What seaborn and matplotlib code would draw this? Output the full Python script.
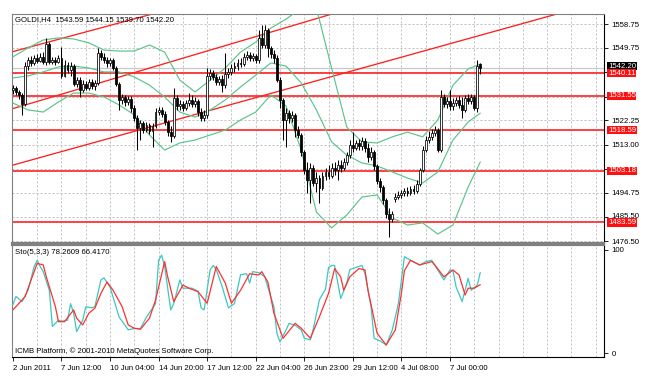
import matplotlib
matplotlib.use('Agg')
import matplotlib.pyplot as plt
import matplotlib.transforms as mtransforms
import numpy as np
import seaborn as sns

# ---------------- data ----------------
opens = [
1533.8, 1534.5, 1533.0, 1531.9, 1528.5, 1542.8, 1545.1, 1544.0, 1545.9, 1544.7,
1546.3, 1544.4, 1551.2, 1544.4, 1545.1, 1544.4, 1545.9, 1539.1, 1543.2, 1541.3,
1542.8, 1536.0, 1537.5, 1533.8, 1536.0, 1534.5, 1536.8, 1535.3, 1536.4, 1547.8,
1546.3, 1545.1, 1544.0, 1545.1, 1542.1, 1536.0, 1530.0, 1531.1, 1529.2, 1530.3,
1526.9, 1523.1, 1519.4, 1521.3, 1518.6, 1520.5, 1518.2, 1520.1, 1525.4, 1526.2,
1524.7, 1521.6, 1517.8, 1516.3, 1530.7, 1527.7, 1528.5, 1526.9, 1528.8, 1530.0,
1528.5, 1529.6, 1525.4, 1523.1, 1524.3, 1539.1, 1540.2, 1538.7, 1536.8, 1537.9,
1535.6, 1539.8, 1540.6, 1542.1, 1542.8, 1544.0, 1543.6, 1546.3, 1547.0, 1545.9,
1546.6, 1545.1, 1553.5, 1550.8, 1556.5, 1549.7, 1547.4, 1545.9, 1537.5, 1530.0,
1522.4, 1525.0, 1523.1, 1524.3, 1518.6, 1516.7, 1510.3, 1503.4, 1499.7, 1504.2,
1498.5, 1500.4, 1496.6, 1501.2, 1502.7, 1501.2, 1504.2, 1503.4, 1505.3, 1504.2,
1506.5, 1509.1, 1512.9, 1511.8, 1513.7, 1512.5, 1514.4, 1511.8, 1508.4, 1510.3,
1505.0, 1499.3, 1497.0, 1492.1, 1486.8, 1484.9, 1492.5, 1493.2, 1494.0, 1494.7,
1495.5, 1494.7, 1496.3, 1495.5, 1498.1, 1503.4, 1511.0, 1514.8, 1515.9, 1517.5,
1518.6, 1511.0, 1531.1, 1528.5, 1529.6, 1527.7, 1528.8, 1530.0, 1528.1, 1526.2,
1530.7, 1529.6, 1531.1, 1526.9, 1543.59]
highs = [
1535.6, 1535.3, 1533.8, 1532.6, 1544.4, 1546.3, 1546.6, 1547.0, 1547.4, 1547.8,
1548.1, 1553.5, 1551.9, 1546.3, 1546.3, 1547.0, 1550.0, 1545.1, 1544.4, 1544.4,
1543.6, 1538.7, 1538.7, 1537.5, 1537.2, 1537.9, 1537.9, 1537.5, 1549.7, 1548.9,
1547.8, 1546.3, 1545.9, 1545.9, 1542.8, 1536.8, 1532.2, 1531.9, 1531.5, 1531.5,
1528.1, 1524.3, 1522.4, 1522.0, 1521.6, 1521.3, 1521.3, 1526.9, 1527.3, 1527.3,
1525.8, 1522.4, 1520.1, 1534.5, 1531.9, 1530.0, 1529.6, 1530.0, 1532.6, 1531.9,
1531.1, 1530.3, 1526.9, 1526.2, 1542.1, 1541.7, 1541.3, 1539.8, 1539.1, 1539.4,
1547.8, 1542.1, 1543.6, 1544.4, 1545.5, 1545.9, 1547.8, 1548.5, 1548.1, 1547.8,
1547.4, 1556.5, 1558.4, 1558.4, 1557.2, 1550.4, 1548.9, 1547.0, 1538.7, 1530.7,
1526.9, 1526.2, 1525.8, 1525.0, 1520.1, 1517.5, 1511.0, 1506.5, 1506.1, 1505.3,
1502.7, 1501.6, 1502.7, 1504.2, 1505.3, 1506.1, 1506.5, 1507.2, 1507.2, 1508.0,
1510.3, 1514.8, 1517.8, 1514.8, 1515.2, 1515.9, 1515.6, 1513.7, 1512.2, 1511.0,
1505.7, 1500.4, 1497.8, 1492.8, 1489.0, 1487.9, 1494.7, 1495.5, 1495.9, 1496.6,
1497.0, 1497.4, 1497.8, 1499.7, 1504.2, 1512.5, 1516.3, 1518.2, 1519.0, 1520.1,
1519.4, 1533.8, 1532.2, 1531.1, 1533.8, 1530.7, 1531.1, 1531.5, 1531.1, 1531.9,
1532.2, 1532.2, 1531.9, 1545.1, 1544.15]
lows = [
1532.2, 1531.9, 1530.3, 1524.3, 1527.7, 1541.3, 1542.8, 1543.2, 1544.0, 1544.4,
1543.6, 1543.2, 1543.6, 1543.6, 1543.2, 1544.0, 1538.3, 1538.7, 1540.2, 1539.1,
1535.3, 1534.9, 1531.1, 1533.0, 1533.8, 1533.8, 1534.1, 1533.8, 1535.6, 1545.1,
1544.0, 1542.5, 1542.8, 1541.3, 1535.3, 1526.2, 1528.5, 1527.7, 1528.1, 1525.4,
1522.0, 1511.0, 1514.8, 1517.5, 1517.8, 1517.1, 1512.2, 1519.4, 1524.3, 1523.5,
1520.5, 1516.3, 1514.1, 1515.6, 1526.2, 1526.2, 1525.8, 1526.2, 1527.7, 1527.3,
1527.3, 1523.9, 1522.0, 1522.0, 1523.1, 1537.5, 1537.5, 1535.6, 1535.6, 1533.0,
1534.5, 1538.3, 1539.4, 1540.6, 1541.3, 1542.5, 1542.8, 1545.1, 1544.7, 1544.7,
1544.0, 1544.0, 1549.7, 1549.7, 1546.3, 1545.9, 1544.0, 1536.8, 1526.9, 1514.8,
1512.2, 1521.3, 1521.6, 1515.9, 1515.6, 1508.8, 1501.9, 1494.7, 1490.9, 1497.4,
1495.1, 1490.9, 1495.9, 1499.7, 1500.0, 1500.4, 1501.6, 1499.7, 1502.7, 1503.4,
1505.3, 1508.0, 1510.3, 1511.0, 1511.0, 1511.0, 1510.3, 1506.5, 1507.2, 1503.4,
1498.1, 1495.1, 1490.6, 1485.3, 1478.1, 1483.8, 1491.3, 1492.5, 1492.8, 1493.6,
1493.6, 1494.0, 1494.4, 1494.7, 1497.4, 1502.7, 1510.3, 1513.7, 1514.8, 1516.3,
1510.3, 1510.3, 1527.3, 1526.9, 1526.2, 1526.2, 1527.7, 1526.9, 1523.1, 1525.4,
1528.5, 1528.5, 1526.2, 1525.4, 1539.70]
closes = [
1534.5, 1533.0, 1531.9, 1528.5, 1542.8, 1545.1, 1544.0, 1545.9, 1544.7, 1546.3,
1544.4, 1551.2, 1544.4, 1545.1, 1544.4, 1545.9, 1539.1, 1543.2, 1541.3, 1542.8,
1536.0, 1537.5, 1533.8, 1536.0, 1534.5, 1536.8, 1535.3, 1536.4, 1547.8, 1546.3,
1545.1, 1544.0, 1545.1, 1542.1, 1536.0, 1530.0, 1531.1, 1529.2, 1530.3, 1526.9,
1523.1, 1519.4, 1521.3, 1518.6, 1520.5, 1518.2, 1520.1, 1525.4, 1526.2, 1524.7,
1521.6, 1517.8, 1516.3, 1530.7, 1527.7, 1528.5, 1526.9, 1528.8, 1530.0, 1528.5,
1529.6, 1525.4, 1523.1, 1524.3, 1539.1, 1540.2, 1538.7, 1536.8, 1537.9, 1535.6,
1539.8, 1540.6, 1542.1, 1542.8, 1544.0, 1543.6, 1546.3, 1547.0, 1545.9, 1546.6,
1545.1, 1553.5, 1550.8, 1556.5, 1549.7, 1547.4, 1545.9, 1537.5, 1530.0, 1522.4,
1525.0, 1523.1, 1524.3, 1518.6, 1516.7, 1510.3, 1503.4, 1499.7, 1504.2, 1498.5,
1500.4, 1496.6, 1501.2, 1502.7, 1501.2, 1504.2, 1503.4, 1505.3, 1504.2, 1506.5,
1509.1, 1512.9, 1511.8, 1513.7, 1512.5, 1514.4, 1511.8, 1508.4, 1510.3, 1505.0,
1499.3, 1497.0, 1492.1, 1486.8, 1484.9, 1486.8, 1493.2, 1494.0, 1494.7, 1495.5,
1494.7, 1496.3, 1495.5, 1498.1, 1503.4, 1511.0, 1514.8, 1515.9, 1517.5, 1518.6,
1511.0, 1531.1, 1528.5, 1529.6, 1527.7, 1528.8, 1530.0, 1528.1, 1526.2, 1530.7,
1529.6, 1531.1, 1526.9, 1542.8, 1542.20]

# Bollinger bands, sampled every 5 bars
band_idx = [0, 5, 10, 15, 20, 25, 30, 35, 40, 45, 50, 55, 60, 65, 70, 75, 80, 85,
            90, 95, 100, 105, 110, 115, 120, 125, 130, 135, 140, 145, 150, 154]
bb_upper = [1546.3, 1549.7, 1552.7, 1553.5, 1553.1, 1551.6, 1548.9, 1548.5, 1548.5,
            1550.8, 1548.1, 1537.5, 1533.0, 1537.5, 1542.1, 1548.1, 1551.9, 1557.2,
            1560.6, 1564.8, 1564.8, 1542.1, 1519.7, 1514.1, 1513.7, 1516.0, 1517.8,
            1516.0, 1522.4, 1535.6, 1541.7, 1543.6]
bb_middle = [1538.3, 1539.1, 1540.6, 1542.5, 1542.8, 1542.1, 1540.6, 1540.6, 1538.7,
             1535.6, 1531.1, 1525.4, 1523.5, 1526.2, 1530.0, 1534.9, 1539.4, 1544.0,
             1542.8, 1536.4, 1526.2, 1514.1, 1509.1, 1506.1, 1505.0, 1502.7, 1500.4,
             1498.5, 1502.7, 1514.8, 1521.6, 1525.0]
bb_lower = [1528.8, 1526.2, 1525.4, 1529.2, 1532.6, 1532.6, 1531.1, 1528.1, 1524.3,
            1516.7, 1511.0, 1513.7, 1514.8, 1516.7, 1518.6, 1522.4, 1525.4, 1531.9,
            1527.7, 1511.0, 1487.5, 1481.5, 1486.4, 1493.2, 1494.0, 1485.3, 1482.6,
            1483.4, 1479.2, 1482.6, 1497.0, 1506.5]

# Stochastic (5,3,3)
sto_main_idx = [0, 1, 3, 5, 7, 8, 9, 10, 12, 13, 15, 16, 18, 19, 20, 21, 23, 24, 26, 27,
                29, 30, 32, 35, 37, 38, 40, 42, 44, 47, 48, 49, 50, 52, 53, 55, 56, 59, 61, 62,
                63, 65, 66, 67, 69, 71, 73, 75, 77, 78, 79, 81, 83, 84, 86, 87, 88, 90, 91, 93,
                95, 96, 98, 99, 101, 103, 104, 105, 106, 108, 110, 111, 114, 115, 116, 118, 119,
                121, 123, 125, 127, 129, 131, 133, 134, 136, 138, 140, 142, 144, 145, 146, 148,
                150, 151, 153, 154]
sto_main = [47, 55, 50, 61, 84, 90, 84, 79, 61, 26, 32, 31, 32, 48, 39, 21, 32, 45, 44, 45,
            71, 73, 64, 35, 27, 22.6, 24, 24, 35, 48, 90, 95, 84, 42, 48, 71, 63, 63, 60, 44,
            42, 81, 85, 81, 64, 44, 48, 76, 77, 68, 79, 78, 74, 64, 45, 19, 11, 22.6, 29, 27,
            22.6, 14.5, 13, 24, 52, 62, 83, 85, 85, 53, 68, 81, 84, 85, 77, 45, 14.5,
            12, 8, 22.6, 48, 93.5, 90, 87, 85.5, 88.7, 90, 80.6, 71, 80.6, 80, 64.5, 50,
            72.6, 61, 66, 78.2609]
sto_sig_idx = [0, 3, 4, 6, 8, 10, 11, 14, 15, 17, 20, 21, 23, 25, 27, 29, 31, 33, 36, 38,
               40, 42, 45, 47, 50, 51, 53, 56, 58, 61, 64, 67, 70, 72, 75, 78, 81, 82, 84, 86,
               89, 93, 95, 98, 101, 104, 106, 108, 109, 111, 114, 116, 117, 120, 123, 126, 128,
               129, 131, 134, 138, 139, 142, 145, 147, 149, 150, 152, 154]
sto_sig = [42, 51.6, 54.8, 71, 87, 85.5, 74, 45, 30.6, 30.6, 42, 34, 27.4, 38.7, 43.6, 58,
           69, 61, 45, 27.4, 24.2, 23.2, 34, 51.6, 88.7, 74, 50, 66, 63, 59.6, 48.4, 84, 67.8,
           48.4, 61, 77, 75.8, 79, 69, 38.7, 14.5, 29, 24.2, 14.5, 35.4, 58, 82, 74, 61, 74,
           82, 80.6, 61, 19.4, 8, 22.6, 58, 80, 90, 85.5, 88.7, 85.5, 74, 80.6, 75.8, 56.4,
           63, 63, 66.4170]

# horizontal levels and trend lines (bar, price, bar, price)
levels = [1540.11, 1531.55, 1518.59, 1503.18, 1483.59]
bid_price = 1542.20
trend_lines = [(0, 1548.3, 40, 1560.7),
               (0, 1526.7, 100, 1560.8),
               (0, 1505.3, 150, 1553.2)]

price_ticks = [1558.75, 1549.75, 1540.50, 1531.25, 1522.25, 1513.00, 1503.75,
               1494.75, 1485.50, 1476.50]
price_tick_labels = ['1558.75', '1549.75', '', '', '1522.25', '1513.00', '',
                     '1494.75', '1485.50', '1476.50']
time_ticks = [0, 16, 32, 48, 64, 80, 96, 112, 128, 144]
time_labels = ['2 Jun 2011', '7 Jun 12:00', '10 Jun 04:00', '14 Jun 20:00',
               '17 Jun 12:00', '22 Jun 04:00', '26 Jun 23:00', '29 Jun 12:00',
               '4 Jul 08:00', '7 Jul 00:00']

title_text = 'GOLDI,H4  1543.59 1544.15 1539.70 1542.20'
sto_text = 'Sto(5,3,3) 78.2609 66.4170'
copyright_text = 'ICMB Platform, \u00a9 2001-2010 MetaQuotes Software Corp.'

# ---------------- style ----------------
sns.set_theme(style='white')
plt.rcParams['font.family'] = ['Liberation Sans', 'DejaVu Sans']
FS = 5.6
plt.rcParams['font.size'] = FS
plt.rcParams['axes.linewidth'] = 0.8

W, H = 646, 381
fig = plt.figure(figsize=(W / 100, H / 100), dpi=100)
fig.patch.set_facecolor('white')
L, R = 12, 604
ax = fig.add_axes([L / W, 1 - 243 / H, (R - L) / W, (243 - 14) / H])
ax2 = fig.add_axes([L / W, 1 - 357 / H, (R - L) / W, (357 - 245) / H])

XMIN = -0.3
XMAX = XMIN + (R - L) / 3.035
GRID = '#c0c0c0'
DOT = (0, (2, 2))

for a in (ax, ax2):
    a.set_facecolor('white')
    a.set_xlim(XMIN, XMAX)
    for b in range(8, int(XMAX) + 1, 8):
        a.axvline(b, color=GRID, lw=0.72, ls=DOT, zorder=0.5)

ax.set_ylim(1475.79, 1562.54)
for p in price_ticks:
    ax.axhline(p, color=GRID, lw=0.72, ls=DOT, zorder=0.5)

# bid line
ax.axhline(bid_price, color='#c8c8c8', lw=0.9, zorder=1)

# horizontal levels
for lv in levels:
    ax.axhline(lv, color='#ff2a2a', lw=1.25, zorder=2)

# trend lines
for (x0, y0, x1, y1) in trend_lines:
    ax.axline((x0, y0), (x1, y1), color='#ff2020', lw=0.95, zorder=2)

# Bollinger bands
bb_col = '#5cc48a'
for series in (bb_upper, bb_middle, bb_lower):
    sns.lineplot(x=band_idx, y=series, ax=ax, color=bb_col, lw=0.85,
                 estimator=None, sort=False, zorder=3)

# candles
idx = np.arange(len(closes))
o = np.array(opens); h = np.array(highs); l = np.array(lows); c = np.array(closes)
ax.vlines(idx, l, h, color='black', lw=0.75, zorder=4)
bottom = np.minimum(o, c)
height = np.maximum(np.abs(c - o), 0.35)
bull = c >= o
ax.bar(idx[bull], height[bull], bottom=bottom[bull], width=0.62,
       facecolor='white', edgecolor='black', linewidth=0.55, zorder=5)
ax.bar(idx[~bull], height[~bull], bottom=bottom[~bull], width=0.62,
       facecolor='black', edgecolor='black', linewidth=0.55, zorder=5)

# price axis
ax.yaxis.tick_right()
ax.set_yticks(price_ticks)
ax.set_yticklabels(price_tick_labels)
ax.tick_params(axis='y', right=True, left=False, length=3, width=0.6, pad=2.5,
               labelsize=FS, labelcolor='black', color='black')
ax.tick_params(axis='x', bottom=False, labelbottom=False)
ax.set_xlabel(''); ax.set_ylabel('')
# nudge the lowest-but-one price label up so it just touches the red box below it
fig.canvas.draw()
for lab in ax.get_yticklabels():
    if lab.get_text() == '1485.50':
        lab.set_transform(lab.get_transform() +
                          mtransforms.ScaledTranslation(0, 1.5 / 72, fig.dpi_scale_trans))

trans = mtransforms.blended_transform_factory(ax.transAxes, ax.transData)
ax.text(1.0 + 4 / (R - L), bid_price + 0.6, '1542.20', transform=trans, va='center',
        ha='left', color='white', fontsize=FS, clip_on=False, zorder=9,
        bbox=dict(boxstyle='square,pad=0.08', fc='black', ec='none'))
for lv in levels:
    ax.text(1.0 + 4 / (R - L), lv, f'{lv:.2f}', transform=trans, va='center', ha='left',
            color='white', fontsize=FS, clip_on=False, zorder=10,
            bbox=dict(boxstyle='square,pad=0.08', fc='#ff1010', ec='none'))

# stochastic panel
sns.lineplot(x=sto_main_idx, y=sto_main, ax=ax2, color='#3cc8c0', lw=0.9,
             estimator=None, sort=False, zorder=3)
sns.lineplot(x=sto_sig_idx, y=sto_sig, ax=ax2, color='#ff3030', lw=0.9,
             estimator=None, sort=False, zorder=4)
ax2.set_ylim(-3.6, 104.8)
ax2.yaxis.tick_right()
ax2.set_yticks([0, 100])
ax2.set_yticklabels(['0', '100'])
ax2.tick_params(axis='y', right=True, left=False, length=3, width=0.6, pad=2.5,
                labelsize=FS, labelcolor='black', color='black')
ax2.set_xticks(time_ticks)
ax2.set_xticklabels(time_labels, ha='left')
ax2.tick_params(axis='x', bottom=True, length=3, width=0.6, pad=2.5, labelsize=FS,
                color='black', labelcolor='black')
ax2.set_xlabel(''); ax2.set_ylabel('')

# frames
for a in (ax, ax2):
    a.spines['left'].set_color('#808080')
    a.spines['top'].set_color('#808080')
    a.spines['right'].set_color('black')
ax.spines['bottom'].set_color('#808080')
ax.spines['bottom'].set_linewidth(1.6)
ax2.spines['top'].set_linewidth(1.6)
ax2.spines['bottom'].set_color('black')

# texts
fig.text(15 / W, 1 - 20 / H, title_text, ha='left', va='center', fontsize=FS, color='black')
fig.text(15 / W, 1 - 252 / H, sto_text, ha='left', va='center', fontsize=FS, color='black')
fig.text(15 / W, 1 - 351 / H, copyright_text, ha='left', va='center', fontsize=FS,
         color='black')

fig.savefig('out.png', dpi=100, facecolor='white')
